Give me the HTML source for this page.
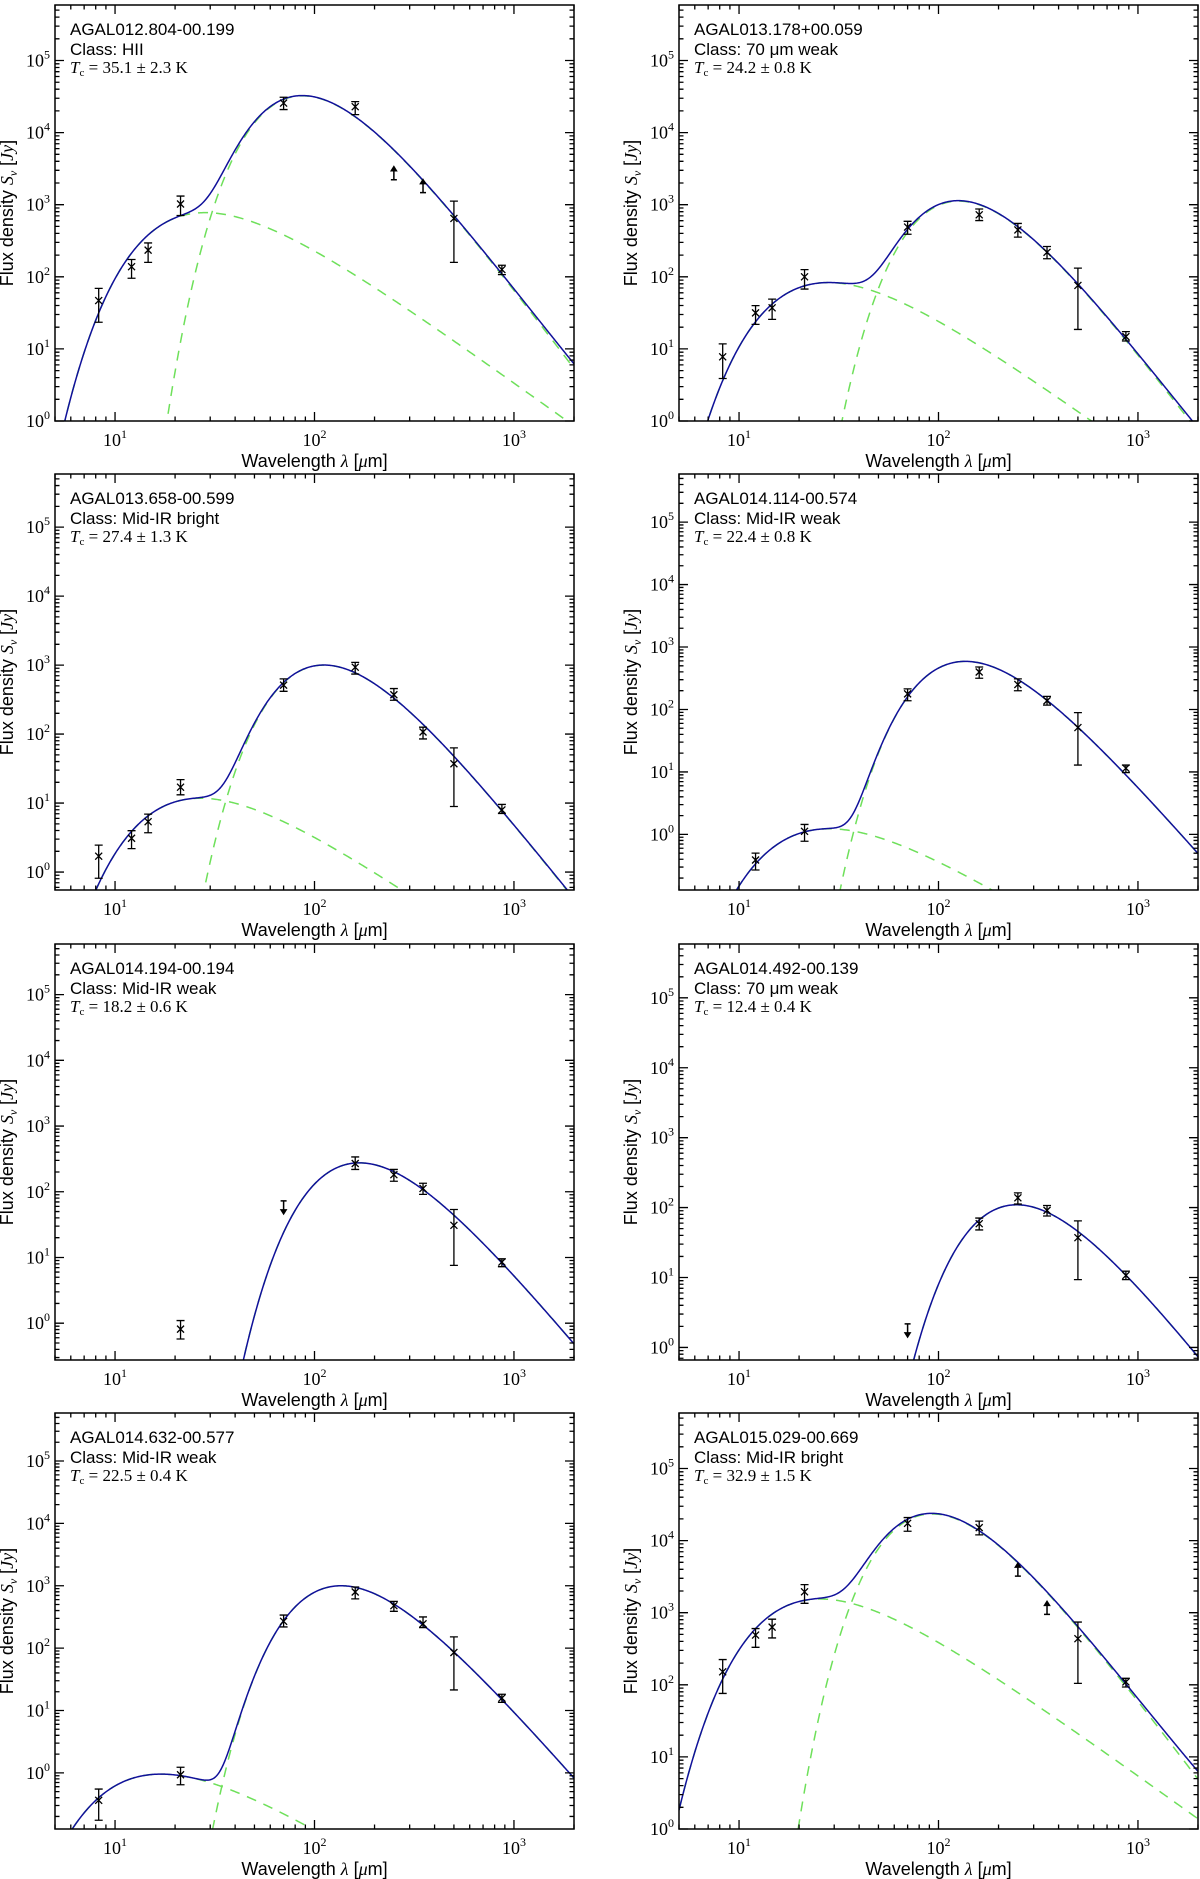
<!DOCTYPE html>
<html><head><meta charset="utf-8"><title>SED fits</title>
<style>html,body{margin:0;padding:0;background:#fff}svg{display:block}</style></head>
<body>
<svg id="fig" width="1200" height="1879" viewBox="0 0 1200 1879" xmlns="http://www.w3.org/2000/svg"></svg>
<script>
// ---- data ----
const sourceNames = ["AGAL012.804-00.199","AGAL013.178+00.059","AGAL013.658-00.599","AGAL014.114-00.574","AGAL014.194-00.194","AGAL014.492-00.139","AGAL014.632-00.577","AGAL015.029-00.669"];
const classNames = ["HII","70 μm weak","Mid-IR bright","Mid-IR weak","Mid-IR weak","70 μm weak","Mid-IR weak","Mid-IR bright"];
const tempLabels = ["35.1 ± 2.3","24.2 ± 0.8","27.4 ± 1.3","22.4 ± 0.8","18.2 ± 0.6","12.4 ± 0.4","22.5 ± 0.4","32.9 ± 1.5"];
const bands = [8.28, 12.1, 14.65, 21.3, 70, 160, 250, 350, 500, 870];
// log10 flux (Jy) per band, null = not measured
const logFlux = [
 [1.67,2.14,2.37,3.01,4.41,4.36,null,null,2.81,2.10],
 [0.89,1.50,1.57,2.00,2.69,2.86,2.65,2.34,1.88,1.17],
 [0.23,0.49,0.73,1.23,2.71,2.97,2.57,2.03,1.57,0.90],
 [null,-0.41,null,0.05,2.25,2.60,2.40,2.14,1.71,1.06],
 [null,null,null,-0.09,null,2.43,2.26,2.05,1.49,0.93],
 [null,null,null,null,null,1.77,2.14,1.96,1.57,1.03],
 [-0.44,null,null,-0.03,2.43,2.90,2.68,2.39,1.93,1.20],
 [2.18,2.69,2.80,3.29,4.24,4.18,null,null,2.64,2.04]
];
const logErrLo = [
 [1.37,1.98,2.20,2.85,4.32,4.25,null,null,2.20,2.03],
 [0.59,1.34,1.41,1.83,2.59,2.78,2.55,2.25,1.27,1.11],
 [-0.09,0.34,0.57,1.12,2.62,2.87,2.49,1.93,0.95,0.85],
 [null,-0.57,null,-0.11,2.14,2.50,2.30,2.07,1.11,0.99],
 [null,null,null,-0.24,null,2.34,2.16,1.96,0.88,0.86],
 [null,null,null,null,null,1.68,2.05,1.88,0.97,0.97],
 [-0.76,null,null,-0.19,2.34,2.79,2.59,2.33,1.33,1.13],
 [1.88,2.52,2.65,3.13,4.13,4.08,null,null,2.02,1.97]
];
const logErrHi = [
 [1.84,2.24,2.47,3.12,4.49,4.43,null,null,3.05,2.16],
 [1.07,1.60,1.69,2.10,2.77,2.94,2.74,2.42,2.12,1.24],
 [0.39,0.60,0.84,1.34,2.80,3.04,2.66,2.10,1.80,0.98],
 [null,-0.30,null,0.16,2.33,2.68,2.49,2.21,1.95,1.11],
 [null,null,null,0.04,null,2.53,2.34,2.13,1.73,0.98],
 [null,null,null,null,null,1.85,2.21,2.03,1.81,1.09],
 [-0.26,null,null,0.09,2.53,2.98,2.75,2.50,2.18,1.26],
 [2.35,2.78,2.91,3.39,4.32,4.27,null,null,2.87,2.09]
];
// flux limits: panel index, band wavelength, log flux, direction (+1 up, -1 down)
const limPanel = [0, 0, 4, 5, 7, 7];
const limWl = [250, 350, 70, 70, 250, 350];
const limLog = [3.43, 3.25, 1.77, 0.25, 3.59, 3.06];
const limDir = [1, 1, -1, -1, 1, 1];
// fitted model parameters (cold greybody beta=1.75, hot blackbody)
const coldT = [35.1, 24.2, 27.4, 22.4, 18.2, 12.4, 22.5, 32.9];
const coldLogPeak = [4.51, 3.05, 3.00, 2.77, 2.44, 2.04, 3.00, 4.37];
const hotT = [180, 182, 190, 180, null, null, 300, 200];
const hotLogPeak = [2.89, 1.92, 1.07, 0.09, null, null, -0.02, 3.19];
const yMinLog = [0, 0, -0.26, -0.89, -0.56, -0.18, -0.90, 0];
const yMaxLog = 5.77;
const xMinLog = Math.log10(5), xMaxLog = Math.log10(2000);

// ---- layout ----
const NS = "http://www.w3.org/2000/svg";
const svg = document.getElementById("fig");
const colX = [55, 679], panelW = 519;
const rowY = [5, 474, 944, 1413], panelH = 416;

function el(tag, attrs, parent){
  const e = document.createElementNS(NS, tag);
  for (const k in attrs) e.setAttribute(k, attrs[k]);
  (parent||svg).appendChild(e);
  return e;
}
function gbody(lam, T, beta){
  const x = 14387.77/(lam*T);
  if (x > 700) return 0;
  return Math.pow(x, 3+beta)/(Math.expm1(x));
}
function compLog(lam, T, beta, logPeak){
  let mx = 0;
  for (let i=0;i<=400;i++){ const l = Math.pow(10, 0.3 + i*0.01); mx = Math.max(mx, gbody(l,T,beta)); }
  const v = gbody(lam,T,beta)/mx;
  return v>0 ? logPeak + Math.log10(v) : -99;
}

for (let p=0;p<8;p++){
  const L = colX[p%2], T0 = rowY[Math.floor(p/2)], R = L+panelW, B = T0+panelH;
  const ymin = yMinLog[p];
  const xs = lg => L + (lg - xMinLog)/(xMaxLog - xMinLog)*panelW;
  const ys = lg => B - (lg - ymin)/(yMaxLog - ymin)*panelH;
  const g = el("g", {});
  
  
  const cid = "clip"+p;
  const cp = el("clipPath", {id:cid}, g);
  el("rect", {x:L, y:T0, width:panelW, height:panelH}, cp);

  const hasHot = hotT[p] !== null;
  let dCold = "", dHot = "", dTot = "";
  for (let i=0;i<=600;i++){
    const lg = xMinLog + (xMaxLog-xMinLog)*i/600, lam = Math.pow(10,lg);
    const c = compLog(lam, coldT[p], 1.75, coldLogPeak[p]);
    const h = hasHot ? compLog(lam, hotT[p], 0, hotLogPeak[p]) : -99;
    const t = Math.log10(Math.pow(10,c) + Math.pow(10,h));
    const cy = Math.max(Math.min(ys(c), B+50), T0-50), hy = Math.max(Math.min(ys(h), B+50), T0-50), ty = Math.max(Math.min(ys(t), B+50), T0-50);
    const X = xs(lg).toFixed(2);
    dCold += (i?"L":"M") + X + " " + cy.toFixed(2);
    dHot += (i?"L":"M") + X + " " + hy.toFixed(2);
    dTot += (i?"L":"M") + X + " " + ty.toFixed(2);
  }
  const cg = el("g", {"clip-path":"url(#"+cid+")"}, g);
  const pc = el("path", {d:dCold, fill:"none", stroke:"#6ee05a", "stroke-width":1.5, "stroke-dasharray":"10 8"}, cg);
  
  
  if (hasHot){
    const ph = el("path", {d:dHot, fill:"none", stroke:"#6ee05a", "stroke-width":1.5, "stroke-dasharray":"10 8"}, cg);
    
    
  }
  const pt = el("path", {d:dTot, fill:"none", stroke:"#10109a", "stroke-width":1.5}, cg);
  
  

  for (let b=0;b<bands.length;b++){
    const v = logFlux[p][b]; if (v===null) continue;
    const X = xs(Math.log10(bands[b])), Y = ys(v), y1 = ys(logErrLo[p][b]), y2 = ys(logErrHi[p][b]);
    const dp = el("g", {stroke:"#000", "stroke-width":1.3, fill:"none"}, g);
    
    
    el("path", {d:`M${X} ${y1}V${y2}M${X-4} ${y1}h8M${X-4} ${y2}h8M${X-3.5} ${Y-3.5}l7 7M${X-3.5} ${Y+3.5}l7 -7`}, dp);
  }
  for (let k=0;k<limPanel.length;k++){
    if (limPanel[k]!==p) continue;
    const X = xs(Math.log10(limWl[k])), Y = ys(limLog[k]), dir = limDir[k];
    const lm = el("g", {stroke:"#000", "stroke-width":1.5, fill:"#000"}, g);
    
    
    const tail = Y + dir*6, head = Y - dir*6;
    el("path", {d:`M${X-3} ${tail}h6M${X} ${tail}V${head}`}, lm);
    el("path", {d:`M${X-2.5} ${head+dir*3}L${X} ${head-dir*1}L${X+2.5} ${head+dir*3}Z`}, lm);
  }

  const fr = el("rect", {x:L, y:T0, width:panelW, height:panelH, fill:"none", stroke:"#000", "stroke-width":1.5}, g);
  
  
  let td = "";
  for (let d=0; d<=3; d++) for (let m=1;m<=9;m++){
    const lg = d + Math.log10(m); if (lg < xMinLog || lg > xMaxLog) continue;
    const X = xs(lg), len = m===1?9:4.5;
    td += `M${X} ${B}v${-len}M${X} ${T0}v${len}`;
  }
  for (let d=-1; d<=5; d++) for (let m=1;m<=9;m++){
    const lg = d + Math.log10(m); if (lg < ymin || lg > yMaxLog) continue;
    const Y = ys(lg), len = m===1?9:4.5;
    td += `M${L} ${Y}h${len}M${R} ${Y}h${-len}`;
  }
  el("path", {d:td, stroke:"#000", "stroke-width":1.3, fill:"none"}, g);

  for (let d=1; d<=3; d++){
    const t = el("text", {x:xs(d), y:B+25, "font-family":"Liberation Serif, serif", "font-size":18, "text-anchor":"middle"}, g);
    
    
    t.innerHTML = '10<tspan dy="-8" font-size="12">' + d + '</tspan>';
  }
  for (let d=0; d<=5; d++){
    if (d < ymin) continue;
    const t = el("text", {x:L-5, y:ys(d)+6, "font-family":"Liberation Serif, serif", "font-size":18, "text-anchor":"end"}, g);
    
    
    t.innerHTML = '10<tspan dy="-8" font-size="12">' + d + '</tspan>';
  }
  const xt = el("text", {x:(L+R)/2, y:B+46, "font-family":"Liberation Sans, sans-serif", "font-size":18, "text-anchor":"middle"}, g);
  
  
  xt.innerHTML = 'Wavelength <tspan font-family="Liberation Serif, serif" font-style="italic">λ</tspan> [<tspan font-family="Liberation Serif, serif" font-style="italic">μ</tspan>m]';
  const yt = el("text", {x:0, y:0, transform:`translate(${L-42},${(T0+B)/2}) rotate(-90)`, "font-family":"Liberation Sans, sans-serif", "font-size":18, "text-anchor":"middle"}, g);
  
  
  yt.innerHTML = 'Flux density <tspan font-family="Liberation Serif, serif" font-style="italic">S<tspan font-size="12" dy="4">ν</tspan></tspan><tspan dy="-4"> [</tspan><tspan font-family="Liberation Serif, serif" font-style="italic">Jy</tspan>]';
  const a1 = el("text", {x:L+15, y:T0+30, "font-family":"Liberation Sans, sans-serif", "font-size":17}, g);
  
  
  a1.textContent = sourceNames[p];
  const a2 = el("text", {x:L+15, y:T0+50, "font-family":"Liberation Sans, sans-serif", "font-size":17}, g);
  
  
  a2.textContent = "Class: " + classNames[p];
  const a3 = el("text", {x:L+15, y:T0+68, "font-family":"Liberation Serif, serif", "font-size":17}, g);
  
  
  a3.innerHTML = '<tspan font-style="italic">T</tspan><tspan font-size="11" dy="3">c</tspan><tspan dy="-3"> = ' + tempLabels[p] + ' K</tspan>';
}
</script>
</body></html>
